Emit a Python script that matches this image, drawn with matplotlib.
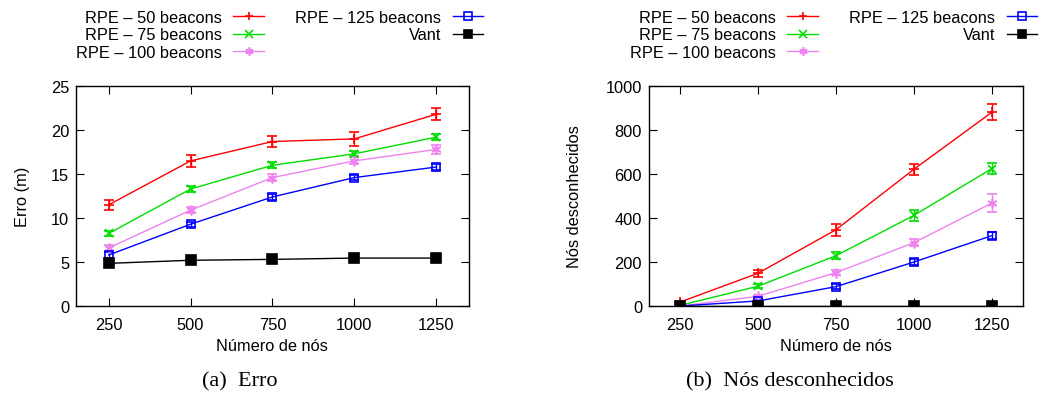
import numpy as np
import matplotlib
matplotlib.use('Agg')
import matplotlib.pyplot as plt
from matplotlib.lines import Line2D

plt.rcParams['font.family'] = ['Liberation Sans', 'DejaVu Sans']

nodes = [250, 500, 750, 1000, 1250]
labels = ['RPE \u2013 50 beacons', 'RPE \u2013 75 beacons', 'RPE \u2013 100 beacons',
          'RPE \u2013 125 beacons', 'Vant']

# erro (m)
erro_50 = [11.5, 16.5, 18.7, 19.0, 21.8]
erro_50_err = [0.6, 0.7, 0.65, 0.8, 0.7]
erro_75 = [8.25, 13.3, 16.0, 17.3, 19.2]
erro_75_err = [0.3, 0.3, 0.35, 0.3, 0.35]
erro_100 = [6.6, 10.9, 14.6, 16.5, 17.8]
erro_100_err = [0.3, 0.3, 0.4, 0.4, 0.5]
erro_125 = [5.8, 9.3, 12.4, 14.6, 15.8]
erro_125_err = [0.3, 0.3, 0.3, 0.3, 0.3]
erro_vant = [4.85, 5.2, 5.3, 5.45, 5.45]
erro_vant_err = [0.1, 0.1, 0.1, 0.1, 0.1]

# nos desconhecidos
desc_50 = [18, 149, 347, 622, 881]
desc_50_err = [6, 15, 28, 24, 37]
desc_75 = [3, 90, 229, 412, 625]
desc_75_err = [2, 10, 15, 25, 25]
desc_100 = [0, 44, 152, 288, 468]
desc_100_err = [0, 8, 12, 15, 40]
desc_125 = [0, 23, 88, 200, 320]
desc_125_err = [0, 5, 10, 12, 15]
desc_vant = [0, 0, 0, 0, 0]
desc_vant_err = [0, 0, 0, 0, 0]

FS = 11.8

styles = [
    dict(color='#ff0000', marker='+', ms=7, mfc='#ff0000'),
    dict(color='#00dd00', marker='x', ms=6, mfc='#00dd00'),
    dict(color='#ee82ee', marker=(6, 2, 0), ms=7, mfc='#ee82ee'),
    dict(color='#0000ff', marker='s', ms=6, mfc='none'),
    dict(color='#000000', marker='s', ms=6.5, mfc='#000000'),
]


def draw(ax, series, errs, ylim, yticks, ylabel, ypad):
    for vals, err, st in zip(series, errs, styles):
        ax.errorbar(nodes, vals, yerr=err, color=st['color'], marker=st['marker'],
                    ms=st['ms'], mfc=st['mfc'], mec=st['color'], mew=1.2,
                    lw=1.0, elinewidth=1.0, capsize=3.5, capthick=1.0)
    ax.set_xlim(150, 1350)
    ax.set_ylim(*ylim)
    ax.set_xticks(nodes)
    ax.set_yticks(yticks)
    ax.tick_params(direction='in', top=True, right=True, length=6, labelsize=FS)
    ax.tick_params(axis='x', pad=8)
    ax.tick_params(axis='y', pad=5)
    for s in ax.spines.values():
        s.set_linewidth(1.0)
    ax.set_xlabel('N\u00famero de n\u00f3s', fontsize=FS, labelpad=4)
    ax.set_ylabel(ylabel, fontsize=FS, labelpad=ypad)


fig = plt.figure(figsize=(10.45, 4.02), dpi=100)
ax1 = fig.add_axes([0.0727, 0.2363, 0.376, 0.547])
ax2 = fig.add_axes([0.621, 0.2363, 0.358, 0.547])

draw(ax1, [erro_50, erro_75, erro_100, erro_125, erro_vant],
     [erro_50_err, erro_75_err, erro_100_err, erro_125_err, erro_vant_err],
     (0, 25), [0, 5, 10, 15, 20, 25], 'Erro (m)', 15)
draw(ax2, [desc_50, desc_75, desc_100, desc_125, desc_vant],
     [desc_50_err, desc_75_err, desc_100_err, desc_125_err, desc_vant_err],
     (0, 1000), [0, 200, 400, 600, 800, 1000], 'N\u00f3s desconhecidos', 17)

handles = [Line2D([], [], color=st['color'], marker=st['marker'], ms=st['ms'] * 0.85,
                  mfc=st['mfc'], mec=st['color'], mew=1.2, lw=1.0) for st in styles]

for ax, xr in [(ax1, 483 / 1045), (ax2, 1037 / 1045)]:
    ax.legend(handles, labels, ncol=2, markerfirst=False, frameon=False, fontsize=FS,
              loc='upper right', bbox_to_anchor=(xr, 1 - 11 / 402),
              bbox_transform=fig.transFigure, borderpad=0, borderaxespad=0,
              labelspacing=0.14, handlelength=1.85, handletextpad=0.72,
              columnspacing=1.9)

fig.text(240 / 1045, 1 - 382 / 402, '(a)  Erro', family='Liberation Serif',
         fontsize=16, ha='center', va='center')
fig.text(790 / 1045, 1 - 382 / 402, '(b)  N\u00f3s desconhecidos', family='Liberation Serif',
         fontsize=16, ha='center', va='center')

fig.savefig('out.png', dpi=100)
